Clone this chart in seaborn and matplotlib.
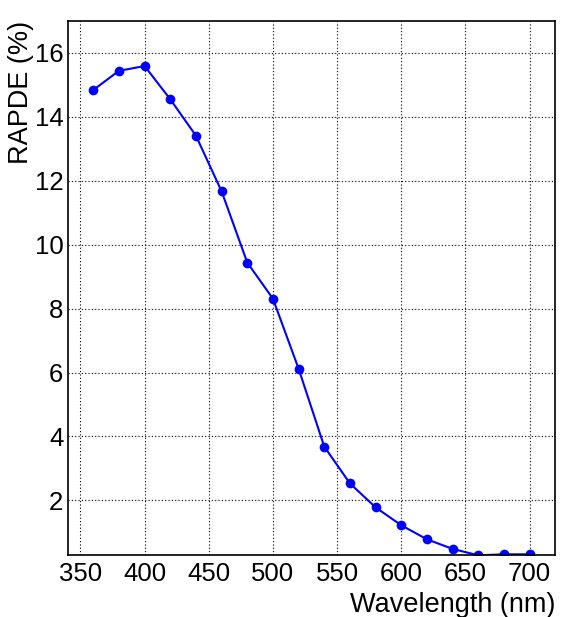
import pandas as pd
import numpy as np
import matplotlib
matplotlib.use("Agg")
import matplotlib.pyplot as plt
import seaborn as sns
from matplotlib.ticker import MultipleLocator

wavelength = [360, 380, 400, 420, 440, 460, 480, 500, 520, 540,
              560, 580, 600, 620, 640, 660, 680, 700]
rapde = [14.84, 15.44, 15.59, 14.55, 13.41, 11.67, 9.44, 8.31, 6.12, 3.68,
         2.53, 1.78, 1.22, 0.78, 0.48, 0.28, 0.31, 0.31]

data = pd.DataFrame({'wavelength': wavelength, 'rapde': rapde})

sns.set_style("white")
plt.rcParams['font.family'] = ['Liberation Sans', 'DejaVu Sans']

fig = plt.figure(figsize=(5.73, 6.17), dpi=100)
ax = fig.add_axes([0.118, 0.100, 0.851, 0.866])

sns.lineplot(data=data, x='wavelength', y='rapde', ax=ax, color='#0000ff',
             marker='o', markersize=7, markeredgewidth=0, linewidth=1.5)

ax.set_xlim(340, 720)
ax.set_ylim(0.28, 17.0)
ax.xaxis.set_major_locator(MultipleLocator(50))
ax.xaxis.set_minor_locator(MultipleLocator(10))
ax.yaxis.set_major_locator(MultipleLocator(2))
ax.yaxis.set_minor_locator(MultipleLocator(0.5))

ax.grid(True, which='major', color='black', linestyle=(0, (1, 2)), linewidth=0.8)
ax.tick_params(which='both', direction='in', top=False, right=False,
               labelsize=18.5, colors='black', width=1)
ax.tick_params(which='major', length=12)
ax.tick_params(which='minor', length=6)
ax.tick_params(axis='x', pad=5)
ax.tick_params(axis='y', pad=3)
for s in ax.spines.values():
    s.set_color('black')
    s.set_linewidth(1.2)

ax.set_xlabel("Wavelength (nm)", fontsize=19.5, loc='right', labelpad=4, color='black')
ax.set_ylabel("RAPDE (%)", fontsize=19.5, loc='top', color='black')
ax.yaxis.set_label_coords(-0.068, 1.0)

fig.savefig("out.png", dpi=100)
